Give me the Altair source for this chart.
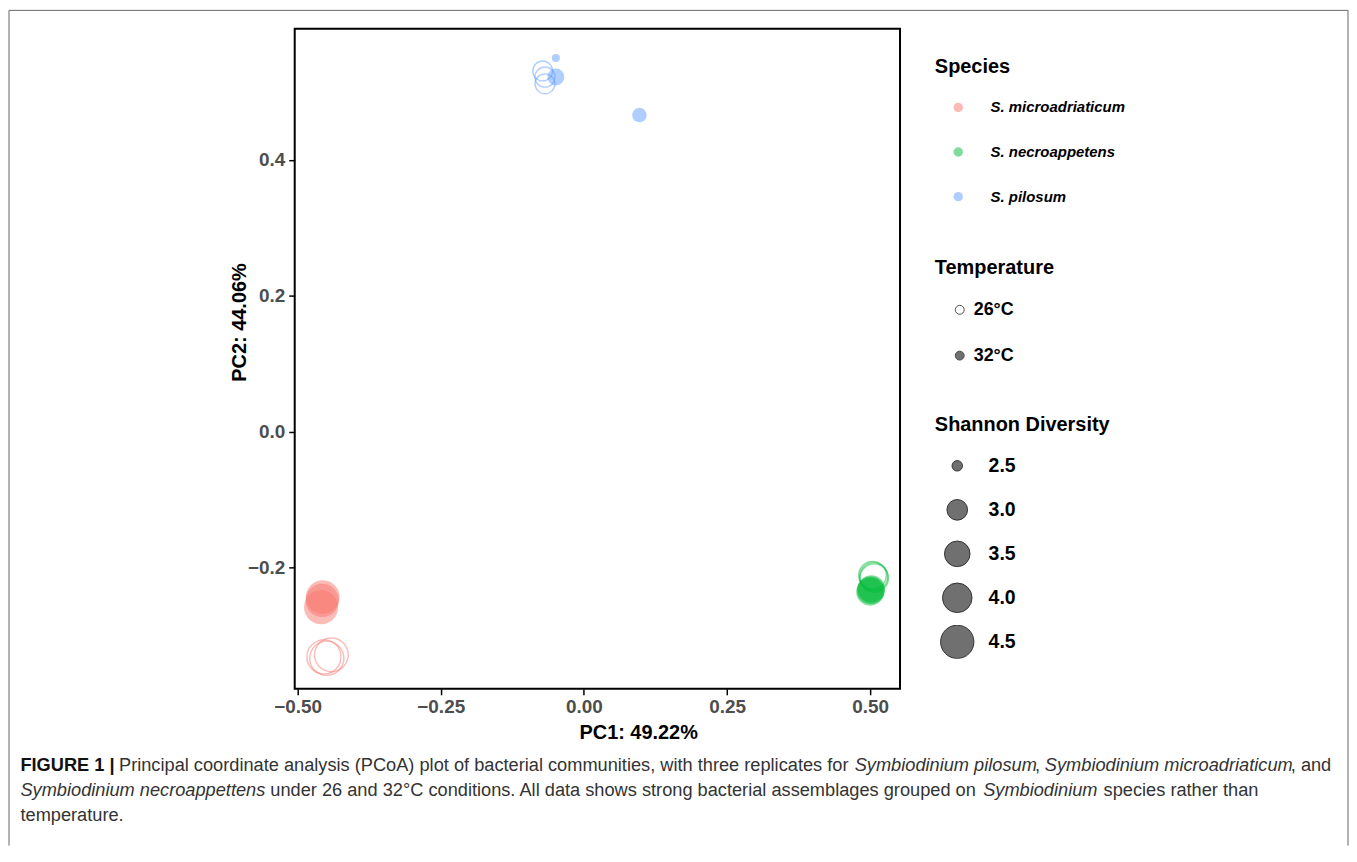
import altair as alt
import pandas as pd

# ---------------- data ----------------
species = (["S. microadriaticum"] * 6 + ["S. necroappetens"] * 6 + ["S. pilosum"] * 6)
temperature = ["26°C", "26°C", "26°C", "32°C", "32°C", "32°C"] * 3
pc1 = [-0.454, -0.441, -0.449, -0.456, -0.457, -0.459,
       0.506, 0.504, 0.507, 0.501, 0.500, 0.502,
       -0.072, -0.068, -0.068, -0.049, -0.049, 0.097]
pc2 = [-0.331, -0.328, -0.333, -0.243, -0.248, -0.258,
       -0.213, -0.211, -0.215, -0.233, -0.235, -0.231,
       0.531, 0.522, 0.512, 0.522, 0.550, 0.466]
shannon = [4.60, 4.55, 4.62, 4.55, 4.50, 4.60,
           3.80, 3.75, 3.85, 3.75, 3.80, 3.70,
           2.95, 2.97, 2.95, 2.78, 2.43, 2.66]

species_order = ["S. microadriaticum", "S. necroappetens", "S. pilosum"]
species_colors = ["#F8766D", "#00BA38", "#619CFF"]
temp_order = ["26°C", "32°C"]
size_values = [2.5, 3.0, 3.5, 4.0, 4.5]
x_ticks = [-0.5, -0.25, 0.0, 0.25, 0.5]
y_ticks = [-0.2, 0.0, 0.2, 0.4]

caption_lines = [
    [("FIGURE 1 |", "bold"),
     ("Principal coordinate analysis (PCoA) plot of bacterial communities, with three replicates for", "normal"),
     ("Symbiodinium pilosum", "italic"), (",", "normal"),
     ("Symbiodinium microadriaticum", "italic"), (", and", "normal")],
    [("Symbiodinium necroappettens", "italic"),
     ("under 26 and 32°C conditions. All data shows strong bacterial assemblages grouped on", "normal"),
     ("Symbiodinium", "italic"), ("species rather than", "normal")],
    [("temperature.", "normal")],
]
# layout (page px) for caption segment starts
caption_x = [[20, 119, 858, 1039, 1049, 1296], [20, 271, 987, 1108], [20]]
caption_y = [768, 793, 818]

df = pd.DataFrame({"Species": species, "Temperature": temperature,
                   "PC1": pc1, "PC2": pc2, "Shannon": shannon})

FONT = "Liberation Sans"
OX, OY = 295.5, 27.5  # plot origin on page

legend_common = dict(orient="none", titleFontSize=20, titleFontWeight="bold",
                     titleColor="black", titleFont=FONT, labelFont=FONT,
                     labelColor="black", labelFontWeight="bold")

species_legend = alt.Legend(title="Species", legendX=643, legendY=28,
                            labelFontSize=15, labelFontStyle="italic",
                            symbolType="circle", symbolSize=90, clipHeight=14,
                            rowPadding=29.8, titlePadding=24, symbolOffset=16,
                            labelOffset=25, symbolStrokeWidth=0, symbolOpacity=0.5,
                            **legend_common)
temp_legend = alt.Legend(title="Temperature", legendX=643, legendY=230,
                         labelFontSize=18, symbolType="circle", symbolSize=80,
                         clipHeight=14, rowPadding=28, titlePadding=25.3,
                         symbolOffset=16, labelOffset=5,
                         symbolStrokeColor="#4d4d4d", symbolStrokeWidth=1,
                         **legend_common)
size_legend = alt.Legend(title="Shannon Diversity", legendX=643, legendY=388,
                         labelFontSize=19.5, symbolType="circle", values=size_values,
                         format=".1f", clipHeight=34, rowPadding=10.2,
                         titlePadding=14, symbolOffset=5, labelOffset=14,
                         symbolFillColor="#707070", symbolStrokeColor="#333333",
                         symbolStrokeWidth=1, symbolOpacity=1,
                         **legend_common)

x_enc = alt.X("PC1:Q",
              scale=alt.Scale(domain=[-0.505, 0.552], nice=False, zero=False),
              axis=alt.Axis(values=x_ticks, format=".2f", title="PC1: 49.22%",
                            titleX=345, titleY=34, titleAlign="center"))
y_enc = alt.Y("PC2:Q",
              scale=alt.Scale(domain=[-0.378, 0.593], nice=False, zero=False),
              axis=alt.Axis(values=y_ticks, format=".1f", title="PC2: 44.06%",
                            titleX=-45, titleY=294.5, titleAlign="center"))

points = alt.Chart(df).mark_point(shape="circle", strokeWidth=1.4).encode(
    x=x_enc,
    y=y_enc,
    fill=alt.Fill("Species:N", scale=alt.Scale(domain=species_order, range=species_colors),
                  legend=species_legend),
    stroke=alt.Stroke("Species:N", scale=alt.Scale(domain=species_order, range=species_colors),
                      legend=species_legend),
    fillOpacity=alt.FillOpacity("Temperature:O", scale=alt.Scale(domain=temp_order, range=[0, 0.7]),
                                legend=None),
    strokeOpacity=alt.StrokeOpacity("Temperature:O", scale=alt.Scale(domain=temp_order, range=[0.7, 0]),
                                    legend=None),
    size=alt.Size("Shannon:Q",
                  scale=alt.Scale(domain=size_values, range=[110, 430, 660, 880, 1120],
                                  zero=False, nice=False),
                  legend=size_legend),
)

# carrier of the Temperature legend (open vs filled symbol); its marks are invisible
temp_key = alt.Chart(df).mark_point(shape="circle", filled=True, opacity=0,
                                    stroke="#4d4d4d").encode(
    x=alt.value(0), y=alt.value(0),
    color=alt.Color("Temperature:N",
                    scale=alt.Scale(domain=temp_order, range=["#ffffff", "#707070"]),
                    legend=temp_legend),
)

one = pd.DataFrame({"k": [0]})
frame_color = "#666666"
frame = [
    alt.Chart(one).mark_rule(color=frame_color, strokeWidth=1).encode(
        x=alt.value(8.5 - OX), x2=alt.value(1353.5 - OX), y=alt.value(9 - OY)),
    alt.Chart(one).mark_rule(color=frame_color, strokeWidth=1).encode(
        x=alt.value(8.5 - OX), y=alt.value(9 - OY), y2=alt.value(848 - OY)),
    alt.Chart(one).mark_rule(color=frame_color, strokeWidth=1).encode(
        x=alt.value(1353.5 - OX), y=alt.value(9 - OY), y2=alt.value(848 - OY)),
]

caption_layers = []
for li, line in enumerate(caption_lines):
    for si, (txt, style) in enumerate(line):
        caption_layers.append(
            alt.Chart(pd.DataFrame({"t": [txt]})).mark_text(
                align="left", baseline="middle", font=FONT, fontSize=18.3,
                fontWeight="bold" if style == "bold" else "normal",
                fontStyle="italic" if style == "italic" else "normal",
                color="#111111" if style == "bold" else "#333333",
            ).encode(text="t:N", x=alt.value(caption_x[li][si] - OX),
                     y=alt.value(caption_y[li] - OY))
        )

chart = alt.layer(*frame, *caption_layers, temp_key, points).properties(
    width=608, height=663, padding=0
).configure_view(stroke="black", strokeWidth=2).configure_axis(
    grid=False, domain=False, labelFont=FONT, labelFontSize=19,
    labelFontWeight="bold", labelColor="#4d4d4d", tickColor="black",
    tickWidth=1.5, tickSize=6, labelPadding=3, titleFont=FONT,
    titleFontSize=20, titleFontWeight="bold", titleColor="black"
).configure_axisY(labelPadding=4)

chart.save("out.html", embed_options={"renderer": "svg", "actions": False})
